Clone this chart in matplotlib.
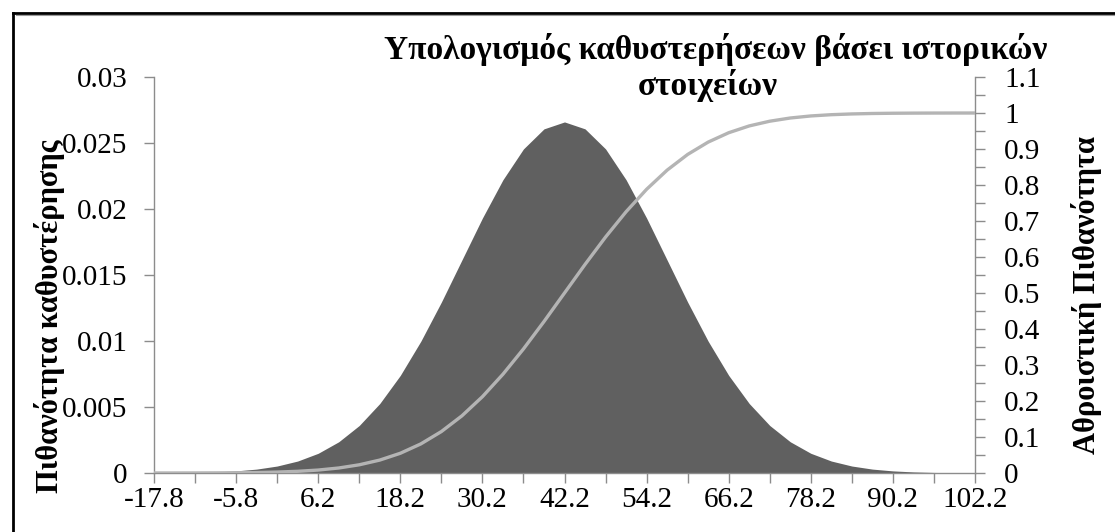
import matplotlib
matplotlib.use("Agg")
import matplotlib.pyplot as plt
from matplotlib.lines import Line2D
from matplotlib.ticker import FixedLocator, MultipleLocator

# Delay values (x axis), step 3
delay = [-17.8, -14.8, -11.8, -8.8, -5.8, -2.8, 0.2, 3.2, 6.2, 9.2,
         12.2, 15.2, 18.2, 21.2, 24.2, 27.2, 30.2, 33.2, 36.2, 39.2,
         42.2, 45.2, 48.2, 51.2, 54.2, 57.2, 60.2, 63.2, 66.2, 69.2,
         72.2, 75.2, 78.2, 81.2, 84.2, 87.2, 90.2, 93.2, 96.2, 99.2, 102.2]

# Probability of each delay (left axis, filled area)
prob = [0.0000089, 0.0000195, 0.0000408, 0.0000821, 0.000159, 0.000295,
        0.000528, 0.000906, 0.001493, 0.002365, 0.003599, 0.005263,
        0.007395, 0.009982, 0.012946, 0.016131, 0.019313, 0.022215,
        0.024551, 0.026070, 0.026596, 0.026070, 0.024551, 0.022215,
        0.019313, 0.016131, 0.012946, 0.009982, 0.007395, 0.005263,
        0.003599, 0.002365, 0.001493, 0.000906, 0.000528, 0.000295,
        0.000159, 0.0000821, 0.0000408, 0.0000195, 0.0000089]

# Cumulative probability (right axis, line)
cum_prob = [0.00003, 0.00007, 0.00016, 0.00034, 0.00069, 0.00135,
            0.0026, 0.0047, 0.0082, 0.0139, 0.0228, 0.0359, 0.0548,
            0.0808, 0.1151, 0.1587, 0.2119, 0.2743, 0.3446, 0.4207,
            0.5, 0.5793, 0.6554, 0.7257, 0.7881, 0.8413, 0.8849,
            0.9192, 0.9452, 0.9641, 0.9772, 0.9861, 0.9918, 0.9953,
            0.9974, 0.99865, 0.99931, 0.99966, 0.99984, 0.99993, 0.99997]

x_labels = ["-17.8", "-5.8", "6.2", "18.2", "30.2", "42.2",
            "54.2", "66.2", "78.2", "90.2", "102.2"]
left_ticks = [0, 0.005, 0.01, 0.015, 0.02, 0.025, 0.03]
right_ticks = [0, 0.1, 0.2, 0.3, 0.4, 0.5, 0.6, 0.7, 0.8, 0.9, 1, 1.1]

title_l1 = "Υπολογισμός καθυστερήσεων βάσει ιστορικών"
title_l2 = "στοιχείων"
left_label = "Πιθανότητα καθυστέρησης"
right_label = "Αθροιστική Πιθανότητα"

plt.rcParams["font.family"] = ["Liberation Serif", "DejaVu Serif"]

W, H = 1115, 532
fig = plt.figure(figsize=(W / 100, H / 100), dpi=100)
fig.patch.set_facecolor("white")

ax = fig.add_axes([154 / W, 1 - 473 / H, (975 - 154) / W, (473 - 77) / H])
ax2 = ax.twinx()

axis_grey = "#8c8c8c"
ax.fill_between(delay, prob, 0, color="#606060", linewidth=0, zorder=2)
ax.set_xlim(delay[0], delay[-1])
ax.set_ylim(0, 0.03)

ax2.plot(delay, cum_prob, color="#b4b4b4", linewidth=2.4,
         solid_capstyle="butt", zorder=3)
ax2.set_ylim(0, 1.1)

# x axis: labelled ticks every 12, unlabelled ones in between
label_pos = [float(s) for s in x_labels]
ax.xaxis.set_major_locator(FixedLocator(label_pos))
ax.set_xticklabels(x_labels)
ax.xaxis.set_minor_locator(FixedLocator([p + 6 for p in label_pos[:-1]]))

ax.set_yticks(left_ticks)
ax.set_yticklabels(["0", "0.005", "0.01", "0.015", "0.02", "0.025", "0.03"])
ax2.set_yticks(right_ticks)
ax2.set_yticklabels(["0", "0.1", "0.2", "0.3", "0.4", "0.5", "0.6",
                     "0.7", "0.8", "0.9", "1", "1.1"])
ax2.yaxis.set_minor_locator(MultipleLocator(0.05))

tick_fs = 21
for a in (ax, ax2):
    a.spines["top"].set_visible(False)
    for side in ("left", "right", "bottom"):
        a.spines[side].set_color(axis_grey)
        a.spines[side].set_linewidth(1.0)
    a.tick_params(which="both", length=7, width=1.0, color=axis_grey,
                  labelsize=tick_fs, labelcolor="black", direction="out")
ax.tick_params(axis="y", pad=12)
ax.tick_params(axis="x", pad=3)
ax2.tick_params(axis="y", pad=14)
ax.spines["right"].set_visible(False)
ax2.spines["left"].set_visible(False)
ax2.spines["bottom"].set_visible(False)
ax.set_zorder(1)
ax2.set_zorder(2)
ax2.patch.set_visible(False)


def fx(px):
    return px / W


def fy(py):
    return 1 - py / H


# Title and axis titles, placed in figure pixels
fig.text(fx(716), fy(50), title_l1, ha="center", va="center",
         fontsize=24, fontweight="bold")
fig.text(fx(708), fy(86), title_l2, ha="center", va="center",
         fontsize=24, fontweight="bold")
fig.text(fx(50), fy(316), left_label, ha="center", va="center",
         rotation=90, fontsize=22, fontweight="bold")
fig.text(fx(1087), fy(295), right_label, ha="center", va="center",
         rotation=90, fontsize=22, fontweight="bold")

# Chart frame (top and left edges visible, rest runs off the canvas)
fig.add_artist(Line2D([fx(13), fx(13)], [fy(13), fy(H + 5)],
                      color="black", linewidth=2.0, transform=fig.transFigure))
fig.add_artist(Line2D([fx(13), fx(W + 5)], [fy(13), fy(13)],
                      color="black", linewidth=2.0, transform=fig.transFigure))
fig.add_artist(Line2D([fx(15.5), fx(W + 5)], [fy(15), fy(15)],
                      color="#9a9a9a", linewidth=0.8, transform=fig.transFigure))

fig.savefig("out.png", dpi=100)
